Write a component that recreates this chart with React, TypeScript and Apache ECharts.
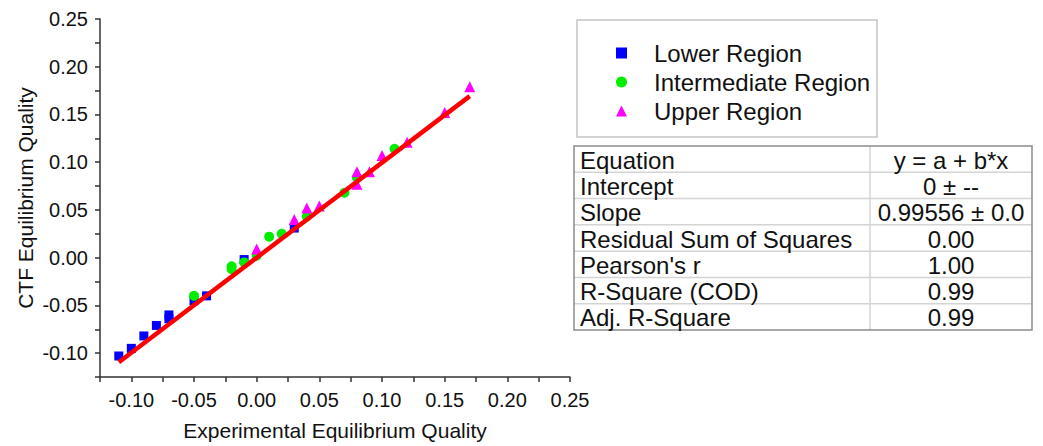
import React, { useEffect, useRef } from "react";
import * as echarts from "echarts";

const seriesNames = ["Lower Region", "Intermediate Region", "Upper Region"];

const lowerRegion: number[][] = [
  [-0.11, -0.103], [-0.1, -0.095], [-0.09, -0.082], [-0.08, -0.071],
  [-0.07, -0.06], [-0.07, -0.064], [-0.05, -0.045], [-0.04, -0.04],
  [-0.01, -0.002], [0.03, 0.031],
];

const intermediateRegion: number[][] = [
  [-0.05, -0.04], [-0.02, -0.009], [-0.02, -0.012], [-0.01, -0.005],
  [0.0, 0.002], [0.01, 0.022], [0.02, 0.025], [0.04, 0.043],
  [0.07, 0.068], [0.08, 0.084], [0.11, 0.114],
];

const upperRegion: number[][] = [
  [0.0, 0.009], [0.03, 0.04], [0.04, 0.052], [0.05, 0.054],
  [0.08, 0.077], [0.08, 0.09], [0.09, 0.09], [0.1, 0.107],
  [0.12, 0.121], [0.15, 0.152], [0.17, 0.179],
];

const fitLine: number[][] = [[-0.11, -0.1095], [0.17, 0.1692]];

const tableLabels = [
  "Equation", "Intercept", "Slope", "Residual Sum of Squares",
  "Pearson's r", "R-Square (COD)", "Adj. R-Square",
];
const tableValues = [
  "y = a + b*x", "0 \u00b1 --", "0.99556 \u00b1 0.0", "0.00", "1.00", "0.99", "0.99",
];

const xTitle = "Experimental Equilibrium Quality";
const yTitle = "CTF Equilibrium Quality";

const FONT = "'Liberation Sans', Arial, sans-serif";

export default function App() {
  const ref = useRef<HTMLDivElement>(null);
  useEffect(() => {
    if (!ref.current) return;
    const chart = echarts.init(ref.current, undefined, { renderer: "svg" });

    // table graphics
    const tLeft = 574, tTop = 146, tRight = 1032, tBottom = 330, colX = 870;
    const rowH = (tBottom - tTop) / tableLabels.length;
    const tableEls: any[] = [];
    for (let i = 1; i < tableLabels.length; i++) {
      tableEls.push({
        type: "line",
        shape: { x1: tLeft, y1: tTop + rowH * i, x2: tRight, y2: tTop + rowH * i },
        style: { stroke: "#d4d4d4", lineWidth: 1.5 },
      });
    }
    tableEls.push({
      type: "line",
      shape: { x1: colX, y1: tTop, x2: colX, y2: tBottom },
      style: { stroke: "#d4d4d4", lineWidth: 1.5 },
    });
    tableEls.push({
      type: "rect",
      shape: { x: tLeft, y: tTop, width: tRight - tLeft, height: tBottom - tTop },
      style: { fill: "none", stroke: "#8c8c8c", lineWidth: 1.5 },
    });
    tableLabels.forEach((lab, i) => {
      tableEls.push({
        type: "text",
        x: 580,
        y: tTop + rowH * i + rowH / 2 + 1,
        style: {
          text: lab, fill: "#111", font: `24px ${FONT}`,
          textAlign: "left", textVerticalAlign: "middle",
        },
      });
      tableEls.push({
        type: "text",
        x: (colX + tRight) / 2,
        y: tTop + rowH * i + rowH / 2 + 1,
        style: {
          text: tableValues[i], fill: "#111", font: `24px ${FONT}`,
          textAlign: "center", textVerticalAlign: "middle",
        },
      });
    });

    const axisCommon = {
      type: "value" as const,
      interval: 0.025,
      splitLine: { show: false },
      axisLine: { show: true, onZero: false, lineStyle: { color: "#333", width: 1.5 } },
      axisTick: { show: true, inside: false, length: 5, lineStyle: { color: "#333", width: 1.5 } },
      axisLabel: {
        color: "#111",
        fontSize: 20,
        fontFamily: FONT,
        margin: 12,
        formatter: (v: number) => {
          const k = Math.round(v * 1000);
          if (k % 50 !== 0) return "";
          return (k / 1000).toFixed(2);
        },
      },
      nameLocation: "middle" as const,
      nameTextStyle: { color: "#111", fontSize: 21, fontFamily: FONT },
    };

    chart.setOption({
      animation: false,
      backgroundColor: "#fff",
      grid: { left: 100, right: 473, top: 19, bottom: 69, containLabel: false },
      xAxis: {
        ...axisCommon,
        min: -0.125,
        max: 0.25,
        name: xTitle,
        nameGap: 43,
        axisLabel: { ...axisCommon.axisLabel, margin: 13, showMinLabel: true, showMaxLabel: true },
      },
      yAxis: {
        ...axisCommon,
        min: -0.125,
        max: 0.25,
        name: yTitle,
        nameGap: 64,
        axisLabel: { ...axisCommon.axisLabel, margin: 12 },
      },
      legend: {
        data: [
          { name: seriesNames[0], icon: "rect" },
          { name: seriesNames[1], icon: "circle" },
          { name: seriesNames[2], icon: "triangle" },
        ],
        orient: "vertical",
        left: 611,
        top: 36,
        itemWidth: 11,
        itemHeight: 11,
        itemGap: 5,
        selectedMode: false,
        textStyle: { color: "#111", fontSize: 24, fontFamily: FONT, padding: [0, 0, 0, 22] },
      },
      graphic: [
        {
          type: "rect",
          shape: { x: 577, y: 20, width: 300, height: 117 },
          style: { fill: "none", stroke: "#c4c4c4", lineWidth: 1.5 },
          z: 0,
        },
        ...tableEls,
      ],
      series: [
        {
          name: seriesNames[0], type: "scatter", data: lowerRegion,
          symbol: "rect", symbolSize: 9, itemStyle: { color: "#0000ff", opacity: 1 }, z: 2,
        },
        {
          name: seriesNames[1], type: "scatter", data: intermediateRegion,
          symbol: "circle", symbolSize: 10, itemStyle: { color: "#00ee00", opacity: 1 }, z: 3,
        },
        {
          name: seriesNames[2], type: "scatter", data: upperRegion,
          symbol: "triangle", symbolSize: 11, itemStyle: { color: "#ff00ff", opacity: 1 }, z: 4,
        },
        {
          name: "Linear Fit", type: "line", data: fitLine, showSymbol: false,
          symbol: "none", lineStyle: { color: "#ff0000", width: 4.5 }, z: 5,
        },
      ],
    });
    return () => chart.dispose();
  }, []);
  return (
    <div
      ref={ref}
      style={{ position: "fixed", left: 0, top: 0, width: 1043, height: 446, background: "#fff" }}
    />
  );
}
